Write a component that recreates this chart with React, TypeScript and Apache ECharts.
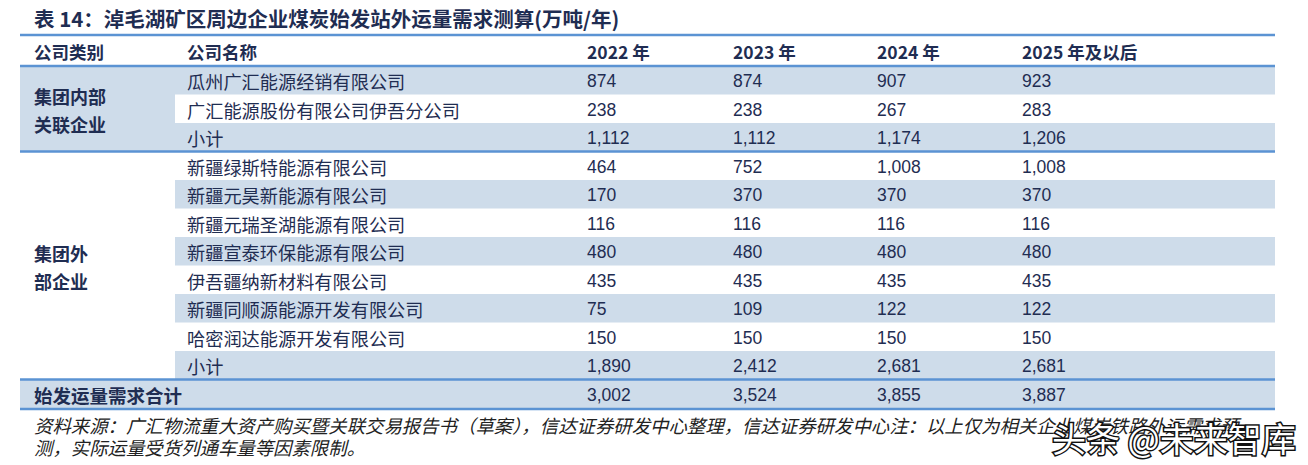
import React, { useEffect, useRef } from "react";
import * as echarts from "echarts";

const titleText = "表 14：淖毛湖矿区周边企业煤炭始发站外运量需求测算(万吨/年)";
const headers = ["公司类别", "公司名称", "2022 年", "2023 年", "2024 年", "2025 年及以后"];
const groupLabels = [["集团内部", "关联企业"], ["集团外", "部企业"]];
const groupSizes = [3, 8];
const companies = [
  "瓜州广汇能源经销有限公司",
  "广汇能源股份有限公司伊吾分公司",
  "小计",
  "新疆绿斯特能源有限公司",
  "新疆元昊新能源有限公司",
  "新疆元瑞圣湖能源有限公司",
  "新疆宣泰环保能源有限公司",
  "伊吾疆纳新材料有限公司",
  "新疆同顺源能源开发有限公司",
  "哈密润达能源开发有限公司",
  "小计",
];
const v2022 = [874, 238, 1112, 464, 170, 116, 480, 435, 75, 150, 1890];
const v2023 = [874, 238, 1112, 752, 370, 116, 480, 435, 109, 150, 2412];
const v2024 = [907, 267, 1174, 1008, 370, 116, 480, 435, 122, 150, 2681];
const v2025 = [923, 283, 1206, 1008, 370, 116, 480, 435, 122, 150, 2681];
const totalLabel = "始发运量需求合计";
const totals = [3002, 3524, 3855, 3887];
const sourceLines = [
  "资料来源：广汇物流重大资产购买暨关联交易报告书（草案），信达证券研发中心整理，信达证券研发中心注：以上仅为相关企业煤炭铁路外运需求预",
  "测，实际运量受货列通车量等因素限制。",
];
const watermark = "头条 @未来智库";

const fmt = (n: number) => n.toLocaleString("en-US");

export default function App() {
  const ref = useRef<HTMLDivElement>(null);
  useEffect(() => {
    document.body.style.margin = "0";
    const chart = echarts.init(ref.current!, undefined, { renderer: "svg" });
    const cjk = "'Noto Sans CJK SC', 'Noto Sans', sans-serif";
    const num = "'Liberation Sans', Arial, sans-serif";
    const navy = "#1f2d52";
    const lineColor = "#5b93d3";
    const shade = "#cedcea";
    const L = 20, R = 1275, catW = 155;
    const colX = [34, 187, 587, 733, 877, 1022];
    const headTop = 35, headBot = 66, rowH = 28.5;
    const yearVals = [v2022, v2023, v2024, v2025];
    const els: any[] = [];
    const nRows = companies.length;
    // shading
    for (let i = 0; i < nRows; i++) {
      if (i % 2 === 0) {
        els.push({ type: "rect", shape: { x: L + catW, y: headBot + i * rowH, width: R - L - catW, height: rowH }, style: { fill: shade }, silent: true });
      }
    }
    els.push({ type: "rect", shape: { x: L, y: headBot, width: catW, height: groupSizes[0] * rowH }, style: { fill: shade } });
    const totTop = headBot + nRows * rowH;
    els.push({ type: "rect", shape: { x: L, y: totTop, width: R - L, height: rowH + 1 }, style: { fill: shade } });
    // lines
    const hl = (y: number) => els.push({ type: "line", shape: { x1: L, y1: y, x2: R, y2: y }, style: { stroke: lineColor, lineWidth: 2.5 } });
    hl(headTop);
    hl(headBot);
    hl(headBot + groupSizes[0] * rowH);
    hl(totTop);
    hl(totTop + rowH + 1);
    // title
    els.push({ type: "text", x: 34, y: 18, style: { text: titleText, font: `bold 20.5px ${cjk}`, fill: navy, verticalAlign: "middle" } });
    // headers
    headers.forEach((h, j) => {
      els.push({ type: "text", x: colX[j], y: (headTop + headBot) / 2 + 1, style: { text: h, font: `bold 17.5px ${cjk}`, fill: navy, verticalAlign: "middle" } });
    });
    // group labels
    let start = 0;
    groupLabels.forEach((g, gi) => {
      const cy = headBot + (start + groupSizes[gi] / 2) * rowH;
      g.forEach((t, k) => {
        els.push({ type: "text", x: colX[0], y: cy + (k - (g.length - 1) / 2) * 28 + 1, style: { text: t, font: `bold 18px ${cjk}`, fill: navy, verticalAlign: "middle" } });
      });
      start += groupSizes[gi];
    });
    // rows
    companies.forEach((c, i) => {
      const cy = headBot + (i + 0.5) * rowH + 1;
      els.push({ type: "text", x: colX[1], y: cy, style: { text: c, font: `18.2px ${cjk}`, fill: navy, verticalAlign: "middle" } });
      yearVals.forEach((arr, j) => {
        els.push({ type: "text", x: colX[2 + j], y: cy, style: { text: fmt(arr[i]), font: `17.5px ${num}`, fill: navy, verticalAlign: "middle" } });
      });
    });
    const tcy = totTop + rowH / 2 + 1.5;
    els.push({ type: "text", x: colX[0], y: tcy, style: { text: totalLabel, font: `bold 18.5px ${cjk}`, fill: navy, verticalAlign: "middle" } });
    totals.forEach((t, j) => {
      els.push({ type: "text", x: colX[2 + j], y: tcy, style: { text: fmt(t), font: `17.5px ${num}`, fill: navy, verticalAlign: "middle" } });
    });
    // source
    els.push({ type: "text", x: 34, y: 414, style: { text: sourceLines.join("\n"), font: `italic 18.4px ${cjk}`, lineHeight: 22, fill: "#222", verticalAlign: "top" } });
    // watermark
    els.push({ type: "text", x: 1052, y: 437, style: { text: watermark, font: `34px ${cjk}`, fill: "#ffffff", stroke: "#111", lineWidth: 3, strokeFirst: true, verticalAlign: "middle" } });
    chart.setOption({ animation: false, graphic: { elements: els } });
    return () => chart.dispose();
  }, []);
  return <div ref={ref} style={{ width: 1308, height: 465 }} />;
}
